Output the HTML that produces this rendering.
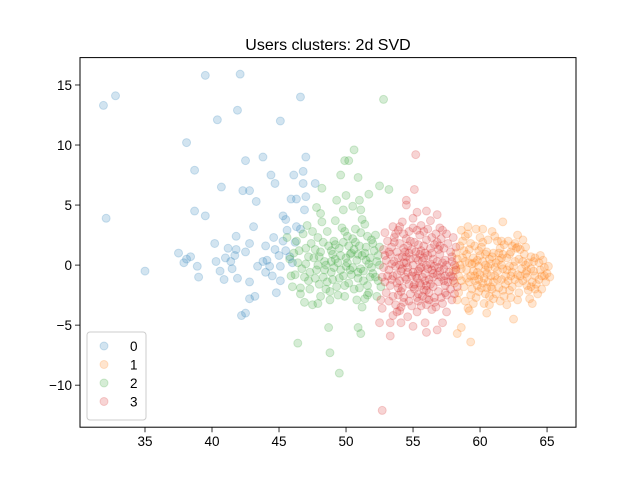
<!DOCTYPE html>
<html><head><meta charset="utf-8"><style>
body{margin:0;background:#fff;}
svg{display:block;font-family:"Liberation Sans","DejaVu Sans",sans-serif;}
</style></head><body>
<svg id="chart" width="640" height="480" xmlns="http://www.w3.org/2000/svg">
<rect width="640" height="480" fill="#fff"/>
<text x="328" y="50" font-size="16" text-anchor="middle">Users clusters: 2d SVD</text>
<g id="marks"></g>
<rect x="80" y="57.6" width="496" height="369.6" fill="none" stroke="#000" stroke-width="1"/>
<g id="axes"></g>
<g id="legend"></g>
</svg>
<script>
const xTicks=[35,40,45,50,55,60,65];
const yTicks=[-10,-5,0,5,10,15];
const clusterNames=["0","1","2","3"];
const cluster0=[[31.9,13.3],[32.8,14.1],[39.5,15.8],[42.1,15.9],[46.6,14.0],[41.9,12.9],[40.4,12.1],[45.1,12.0],[38.1,10.2],[38.7,7.9],[42.5,8.7],[43.8,9.0],[47.0,9.0],[44.4,7.5],[46.1,7.5],[46.8,7.8],[44.7,6.8],[46.8,6.8],[47.7,6.8],[40.7,6.5],[42.3,6.2],[42.8,6.2],[43.3,5.3],[45.9,5.5],[46.3,5.5],[47.0,5.7],[46.9,4.6],[32.1,3.9],[38.7,4.5],[39.5,4.1],[45.3,4.1],[45.5,3.8],[45.6,2.9],[43.1,3.2],[46.3,3.2],[46.6,3.0],[44.6,2.3],[41.8,2.4],[40.2,1.8],[42.8,1.8],[45.3,2.0],[46.2,1.9],[44.0,1.6],[41.2,1.4],[41.8,1.3],[42.5,1.1],[44.7,1.3],[37.5,1.0],[38.4,0.7],[38.1,0.5],[37.9,0.2],[41.0,0.6],[41.7,0.8],[40.3,0.3],[41.4,0.3],[38.9,-0.1],[43.4,-0.1],[43.8,0.3],[44.3,-0.1],[45.0,0.8],[45.8,0.7],[45.1,-0.1],[40.6,-0.5],[41.5,-0.3],[35.0,-0.5],[39.0,-1.0],[40.9,-1.2],[41.9,-1.1],[42.8,-1.4],[44.0,-0.6],[44.5,-0.9],[45.1,-1.3],[44.8,-2.3],[42.8,-2.8],[43.2,-2.6],[42.2,-4.2],[42.5,-4.0],[44.1,0.4],[46.0,0.2],[45.5,1.2]];
const cluster2=[[52.8,13.8],[51.1,-5.7],[50.9,-5.2],[46.4,-6.5],[48.8,-7.3],[49.5,-9.0],[48.7,-5.2],[49.9,8.7],[50.2,8.7],[50.6,9.6],[49.6,7.5],[50.9,7.3],[48.2,6.4],[52.5,6.6],[53.2,6.3],[50.0,5.8],[51.7,5.9],[51.0,5.4],[47.8,4.8],[48.1,4.3],[50.5,4.9],[49.3,5.4],[51.1,4.6],[51.2,3.8],[49.8,4.6],[46.9,-3.1],[47.5,-3.3],[47.9,-3.2],[46.6,-2.4],[48.8,-2.9],[49.9,-2.6],[51.4,-2.8],[51.6,-2.5],[51.2,-3.5],
[45.8,0.5],[46.2,-0.8],[46.5,1.2],[46.8,2.6],[47.0,0.1],[47.2,-1.3],[47.4,1.8],[47.6,0.6],[47.8,-0.4],[47.9,2.3],[48.1,1.1],[48.3,-1.0],[48.4,0.3],[48.6,2.8],[48.7,1.6],[48.9,-0.6],[49.0,0.9],[49.1,2.0],[49.3,-1.8],[49.4,0.2],[49.5,1.4],[49.7,3.1],[49.8,-0.9],[50.0,0.6],[50.1,2.4],[50.2,-1.5],[50.4,1.0],[50.5,-0.2],[50.7,1.9],[50.8,0.4],[50.9,-1.1],[51.1,2.7],[51.2,0.8],[51.3,-0.5],[51.5,1.5],[51.6,-1.7],[51.7,0.1],[51.9,2.1],[52.0,-0.7],[52.1,1.2],[52.3,0.3],[52.4,-1.3],[46.0,-1.8],[46.3,2.0],[46.7,-0.3],[47.1,3.3],[47.3,-2.0],[47.7,1.3],[48.0,-1.6],[48.2,3.6],[48.5,0.0],[48.8,-2.2],[49.2,1.7],[49.6,-0.4],[49.9,2.8],[50.3,0.9],[50.6,-2.0],[51.0,1.6],[51.4,3.4],[51.8,-1.0],[52.2,2.5],[52.5,0.0],[49.2,3.7],[50.7,3.0],[47.5,2.8],[46.1,1.0],[45.6,2.3],[45.9,-0.9],[48.4,-0.4],[49.0,-1.2],[50.4,-0.8],[51.1,-0.3],[49.6,0.8],[48.9,0.3],[50.9,0.9],[47.9,0.0],[47.2,0.7],[52.0,1.8],[51.5,0.4],[52.6,-1.8],[50.2,1.6],[49.4,-2.5],[48.1,-2.6],[46.6,-1.9],[52.3,-2.6],[51.7,-2.3],[50.8,-2.9],
[46.4,0.2],[47.3,-0.6],[48.0,0.7],[48.6,-1.4],[49.2,0.5],[49.8,1.9],[50.3,-0.4],[50.9,-0.6],[51.4,1.0],[51.9,-0.2],[52.2,-1.0],[47.7,-1.1],[48.3,1.9],[49.5,-1.1],[50.1,0.2],[50.6,1.3],[51.3,-1.3],[52.4,0.8],[48.9,1.2],[49.9,-1.7],[51.0,-1.9],[47.0,1.4],[46.9,-1.0],[50.5,2.2],[51.6,2.4],[52.5,1.5],[48.5,-2.0],[49.1,-0.2],[51.8,0.6],[50.0,-0.1]];
const cluster3=[[55.2,9.2],[55.1,6.3],[54.5,5.4],[54.5,5.0],[56.0,4.5],[52.7,-12.1],[52.5,-4.8],[53.3,-4.8],[54.1,-4.8],[55.0,-5.1],[53.3,-5.9],[55.9,-4.8],[57.2,-4.8],[56.0,-5.6],[56.8,-5.4],[54.1,-3.5],
[53.5,3.2],[54.2,3.6],[55.0,3.9],[55.6,3.3],[56.3,3.7],[57.0,3.1],[53.9,2.9],[56.8,4.2],[55.3,4.4],[54.7,2.8],[57.5,2.6],[52.9,2.7],
[53.1,2.0],[53.6,2.3],[54.0,1.8],[54.5,2.2],[55.1,1.9],[55.5,2.5],[56.0,2.1],[56.6,1.7],[57.1,2.2],[57.6,1.8],[58.0,2.3],[53.4,1.5],[54.3,1.4],[55.8,1.6],[56.9,1.3],[57.8,1.1],[52.8,1.3],
[52.9,0.8],[53.3,0.9],[53.8,1.1],[54.2,0.7],[54.7,1.0],[55.2,0.6],[55.6,1.2],[56.1,0.8],[56.5,0.5],[57.0,0.9],[57.4,0.4],[57.9,0.7],[53.6,0.3],[54.5,0.2],[55.4,0.4],[56.3,0.1],[57.2,0.2],[58.1,0.0],
[52.8,-0.2],[53.2,-0.4],[53.7,-0.1],[54.1,-0.5],[54.6,-0.2],[55.0,-0.6],[55.5,-0.3],[55.9,-0.7],[56.4,-0.4],[56.8,-0.8],[57.3,-0.3],[57.7,-0.6],[58.2,-0.4],[53.5,-0.9],[54.4,-1.0],[55.3,-1.1],[56.2,-1.2],[57.1,-1.0],[58.0,-1.3],
[52.9,-1.4],[53.3,-1.7],[53.8,-1.5],[54.2,-1.9],[54.7,-1.6],[55.1,-2.0],[55.6,-1.7],[56.0,-2.1],[56.5,-1.8],[56.9,-2.2],[57.4,-1.7],[57.8,-2.0],[53.0,-2.3],[53.9,-2.5],[54.8,-2.4],[55.7,-2.6],[56.6,-2.7],[57.5,-2.5],
[53.2,-3.0],[53.7,-3.3],[54.3,-3.1],[54.9,-3.4],[55.4,-3.0],[56.0,-3.3],[56.6,-3.1],[57.2,-3.2],[52.7,-3.6],[54.0,-3.8],[55.3,-3.9],[56.4,-3.7],[57.5,-3.9],[52.6,-2.9],[53.5,-4.2],[54.6,-4.3],
[54.0,0.0],[55.0,0.0],[56.0,0.0],[57.0,-0.5],[54.5,-1.2],[55.5,-1.5],[56.5,-1.0],[55.8,0.6],[54.8,0.5],[53.8,-0.8],[56.8,0.3],[55.2,-0.9],[54.1,-2.2],[56.2,-2.3],[57.6,-1.4],[53.4,-1.2],[55.9,1.0],[54.6,1.6],[56.7,2.6],[53.9,0.6],[55.4,-2.4],[56.1,-0.3],[57.3,1.4],[55.6,-0.2],[54.3,2.6],[53.0,0.4],[52.7,-1.0],[57.9,-2.9],[58.3,-1.8],[58.2,1.5],
[54.9,1.3],[55.7,-1.0],[56.3,1.4],[54.2,-0.3],[55.1,-1.6],[56.9,-1.4],[53.6,1.9],[57.4,-0.9],[55.3,2.9],[56.2,-2.9],
[53.4,0.1],[53.9,-1.9],[54.4,1.1],[54.9,-0.9],[55.4,1.7],[55.9,-1.3],[56.4,1.0],[56.9,-0.2],[57.4,-2.3],[57.9,0.3],[53.1,-0.9],[53.7,2.6],[54.3,-2.7],[54.8,2.0],[55.3,-2.7],[55.8,2.8],[56.3,-1.6],[56.8,1.9],[57.3,-1.3],[57.8,-0.9],[53.5,-2.6],[54.0,-1.3],[54.5,0.7],[55.0,-1.8],[55.5,0.9],[56.0,-2.8],[56.5,-0.7],[57.0,1.6],[57.5,0.0],[58.0,-1.0],[54.7,-3.0],[55.6,-3.4],[56.7,-3.5],[53.8,-3.9],[55.0,3.1],[56.1,3.0],[54.0,3.2],[57.2,2.9],[55.7,0.3],[54.6,-0.6],[56.6,-0.1],[55.2,1.1],[54.3,0.2],[56.0,-1.7],[55.4,-0.5],[57.1,-2.7],[53.2,1.1],[58.1,-2.4],[56.4,2.3],[55.8,-2.1]];
const cluster1=[[58.3,0.5],[58.6,-0.3],[58.8,1.2],[59.0,-1.1],[59.2,0.2],[59.4,-2.0],[59.6,1.6],[59.8,-0.6],[60.0,0.8],[60.2,-1.5],[60.4,0.0],[60.6,2.1],[60.8,-0.9],[61.0,1.0],[61.2,-2.4],[61.4,0.4],[61.6,-1.2],[61.8,1.7],[62.0,-0.4],[62.2,0.9],[62.4,-1.8],[62.6,0.3],[62.8,-0.8],[63.0,1.3],[63.2,-1.3],[63.4,0.0],[63.6,-2.1],[63.8,0.7],[64.0,-0.5],[64.2,-1.6],[64.4,0.2],[64.6,-0.9],[64.8,-0.2],[65.0,-0.7],[65.2,-1.0],[58.1,-1.5],[58.4,-2.3],[58.7,2.0],[58.9,-3.0],[59.1,2.6],[59.3,-0.9],[59.5,0.6],[59.7,-2.7],[59.9,-0.1],[60.1,1.5],[60.3,-3.2],[60.5,-0.7],[60.7,0.5],[60.9,-2.0],[61.1,2.4],[61.3,-0.5],[61.5,-3.0],[61.7,0.9],[61.9,-1.6],[62.1,2.0],[62.3,-2.7],[62.5,-0.1],[62.7,1.4],[62.9,-2.3],[63.1,-0.3],[63.3,0.9],[63.5,-1.0],[63.7,-2.8],[63.9,-1.4],[64.1,0.6],[64.3,-2.4],[64.5,-0.4],[64.7,0.4],[64.9,-1.4],[65.1,-0.1],[58.2,1.0],[58.5,0.0],[58.8,-1.8],[59.0,0.9],[59.3,1.8],[59.6,-1.3],[59.9,-2.2],[60.2,0.3],[60.5,1.1],[60.8,-1.8],[61.1,-0.9],[61.4,-1.9],[61.7,-0.3],[62.0,-3.3],[62.3,1.1],[62.6,-1.2],[62.9,0.5],[63.2,2.1],[63.5,-0.5],[63.8,-1.8],[64.1,-0.9],[64.4,-1.2],[58.0,-0.5],[58.3,-2.9],[58.6,2.9],[59.1,-3.6],[59.7,3.0],[60.4,-2.4],[60.9,2.8],[61.5,1.4],[62.2,-2.1],[62.8,2.5],[63.4,1.5],[63.9,-3.2],[64.6,-2.0],[60.0,-0.8],[60.6,-0.2],[61.2,0.2],[59.4,0.1],[60.3,-1.1],[61.0,-1.4],[59.8,0.4],[61.6,0.0],[62.4,-0.6],[60.7,-2.6],[61.9,-0.9],[59.2,-1.4],[60.1,-1.9],[63.0,-0.9],[59.5,-0.5],[60.9,0.7],
[61.7,3.6],[61.6,2.0],[58.3,-5.7],[59.3,-6.4],[58.6,-5.2],[62.5,-4.5],[59.2,-3.8],[60.5,-4.0],[62.8,1.5],[59.1,3.2],[60.2,3.0],[64.5,0.8],[58.5,1.6],[58.9,0.3],[59.6,-0.9],[60.4,0.9],[61.3,-1.2],[62.1,-1.3],[60.6,-1.4],[59.9,1.2],
[58.4,-0.9],[58.7,0.6],[59.0,-0.4],[59.3,-2.5],[59.6,0.2],[59.9,-1.2],[60.2,1.9],[60.5,-1.9],[60.8,0.1],[61.1,-0.2],[61.4,1.0],[61.7,-2.1],[62.0,0.6],[62.3,-0.9],[62.6,1.8],[62.9,-1.5],[63.2,0.3],[63.5,-1.7],[63.8,-0.3],[64.1,-2.0],[58.6,-1.3],[59.2,1.3],[59.8,-1.7],[60.4,-0.4],[61.0,-2.8],[61.6,0.6],[62.2,-0.1],[62.8,-2.9],[63.4,-0.7],[64.0,0.3],[58.9,2.4],[60.0,2.3],[61.3,2.0],[62.4,1.6],[63.6,0.2],[58.2,-0.2],[59.5,-3.2],[60.7,-3.3],[61.8,-2.6],[64.8,-0.9]];
const clusterColors=["#1f77b4","#ff7f0e","#2ca02c","#d62728"];

const NS="http://www.w3.org/2000/svg";
const xMin=30.15,xMax=67.16,yMin=-13.5,yMax=17.28;
const L=80,R=576,T=57.6,B=427.2;
function sx(v){return L+(v-xMin)/(xMax-xMin)*(R-L);}
function sy(v){return B-(v-yMin)/(yMax-yMin)*(B-T);}
function mk(tag,attrs){const e=document.createElementNS(NS,tag);for(const k in attrs)e.setAttribute(k,attrs[k]);return e;}

const marks=document.getElementById('marks');
const order=[[0,cluster0],[1,cluster1],[2,cluster2],[3,cluster3]];
order.forEach(([ci,pts])=>{
  const g=mk('g',{});
  
  
  pts.forEach(p=>{
    const c=mk('circle',{cx:sx(p[0]),cy:sy(p[1]),r:4,fill:clusterColors[ci],'fill-opacity':0.2,stroke:clusterColors[ci],'stroke-opacity':0.2,'stroke-width':1});
    
    
    g.appendChild(c);
  });
  marks.appendChild(g);
});

const axes=document.getElementById('axes');
xTicks.forEach(t=>{
  const x=sx(t);
  const l=mk('line',{x1:x,x2:x,y1:B,y2:B+5,stroke:'#000','stroke-width':0.8});
  
  
  axes.appendChild(l);
  const tx=mk('text',{x:x,y:B+19,'font-size':13.5,'text-anchor':'middle'});
  
  
  tx.textContent=t;axes.appendChild(tx);
});
yTicks.forEach(t=>{
  const y=sy(t);
  const l=mk('line',{x1:L-5,x2:L,y1:y,y2:y,stroke:'#000','stroke-width':0.8});
  
  
  axes.appendChild(l);
  const tx=mk('text',{x:L-8,y:y+5,'font-size':13.5,'text-anchor':'end'});
  
  
  tx.textContent=t<0?'\u2212'+(-t):t;axes.appendChild(tx);
});

const leg=document.getElementById('legend');
const box=mk('rect',{x:87,y:332,width:59,height:88,rx:3,fill:'#fff','fill-opacity':0.8,stroke:'#ccc','stroke-width':1});


leg.appendChild(box);
clusterNames.forEach((n,i)=>{
  const y=346+i*18.5;
  const g=mk('g',{});
  
  
  g.appendChild(mk('circle',{cx:104,cy:y,r:4,fill:clusterColors[i],'fill-opacity':0.2,stroke:clusterColors[i],'stroke-opacity':0.2}));
  const t=mk('text',{x:130,y:y+5,'font-size':13.5});
  t.textContent=n;g.appendChild(t);
  leg.appendChild(g);
});
</script>
</body></html>
